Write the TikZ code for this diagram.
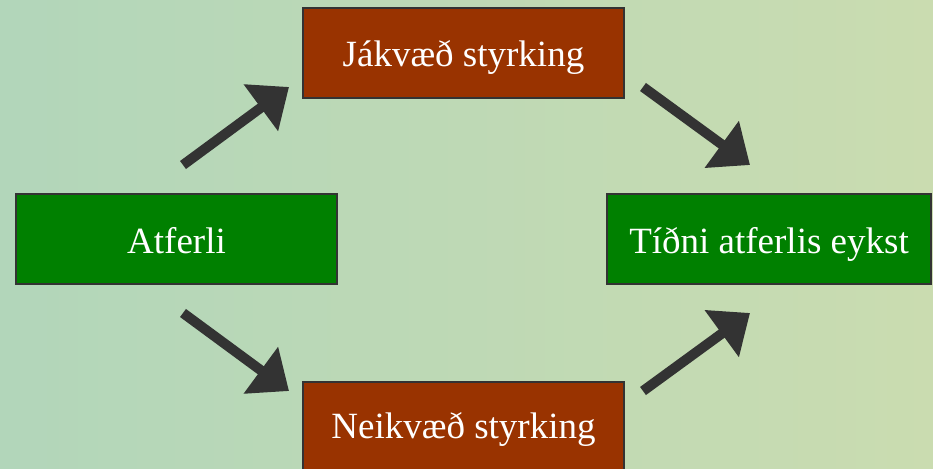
\documentclass[tikz,border=0pt]{standalone}
\usepackage{fontspec}
\setmainfont{Liberation Serif}
\usetikzlibrary{arrows.meta}
\definecolor{rust}{RGB}{153,51,0}
\definecolor{grn}{RGB}{0,128,0}
\definecolor{arr}{RGB}{51,51,51}
\definecolor{bgl}{RGB}{178,214,186}
\definecolor{bgr}{RGB}{202,220,176}
\begin{document}
\begin{tikzpicture}[x=1pt,y=-1pt,
  box/.style={draw=arr, line width=1.5pt, text=white, font=\fontsize{37}{40}\selectfont, inner sep=0pt, minimum height=90pt, text height=36pt, text depth=8pt},
  bigarrow/.style={draw=arr, line width=10pt, -{Triangle[length=35pt,width=56pt]}}]
  \useasboundingbox (0,0) rectangle (933,468);
  \clip (0,0) rectangle (933,468);
  \shade[left color=bgl, right color=bgr] (0,0) rectangle (933,468);
  \node[box, fill=rust, minimum width=321pt] (pos) at (463.5,53) {Jákvæð styrking};
  \node[box, fill=grn, minimum width=321pt] (beh) at (176.5,239) {Atferli};
  \node[box, fill=grn, minimum width=324pt] (freq) at (769,239) {Tíðni atferlis eykst};
  \node[box, fill=rust, minimum width=321pt, text height=33pt, text depth=11pt] (neg) at (463.5,427) {Neikvæð styrking};
  \coordinate (a1s) at (183,165); \coordinate (a1e) at (289,87);
  \coordinate (a2s) at (643,87);  \coordinate (a2e) at (750,165);
  \coordinate (a3s) at (183,313); \coordinate (a3e) at (289,391);
  \coordinate (a4s) at (643,391); \coordinate (a4e) at (750,313);
  \draw[bigarrow] (a1s) -- (a1e);
  \draw[bigarrow] (a2s) -- (a2e);
  \draw[bigarrow] (a3s) -- (a3e);
  \draw[bigarrow] (a4s) -- (a4e);
\end{tikzpicture}
\end{document}
